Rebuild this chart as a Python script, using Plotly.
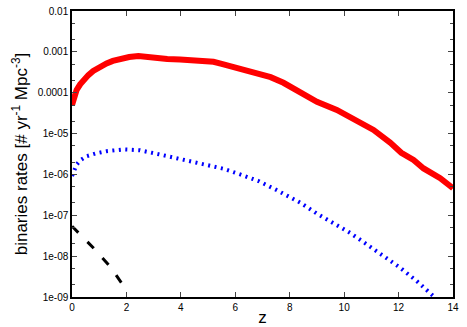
import plotly.graph_objects as go

# red solid curve
z_red = [0, 0.08, 0.17, 0.3, 0.42, 0.6, 0.78, 1.0, 1.27, 1.5, 1.76, 2.1, 2.44, 2.7,
         2.99, 3.5, 3.97, 4.6, 5.2, 5.5, 5.8, 6.1, 6.42, 6.85, 7.3, 7.77, 8.38, 9.0,
         9.73, 10.47, 11.08, 11.69, 12.1, 12.55, 12.92, 13.53, 14.0]
rate_red = [5.0e-5, 8.0e-5, 1.17e-4, 1.6e-4, 2.0e-4, 2.7e-4, 3.4e-4, 4.2e-4, 5.2e-4,
            6.0e-4, 6.8e-4, 7.5e-4, 7.9e-4, 7.6e-4, 6.9e-4, 6.7e-4, 6.5e-4, 6.1e-4,
            5.7e-4, 5.1e-4, 4.5e-4, 4.0e-4, 3.6e-4, 3.1e-4, 2.4e-4, 1.75e-4, 9.8e-5,
            6.0e-5, 3.8e-5, 1.95e-5, 1.23e-5, 6.0e-6, 3.4e-6, 2.25e-6, 1.4e-6,
            8.1e-7, 4.6e-7]

# blue dotted curve
z_blue = [0, 0.08, 0.17, 0.3, 0.54, 0.9, 1.27, 1.89, 2.5, 3.11, 3.73, 4.34, 4.95,
          5.56, 6.18, 6.85, 7.5, 8.38, 9.0, 9.6, 10.22, 10.83, 11.45, 12.06, 12.67,
          13.28]
rate_blue = [9.1e-7, 1.3e-6, 1.74e-6, 2.2e-6, 2.8e-6, 3.3e-6, 3.7e-6, 4.1e-6, 3.9e-6,
             3.2e-6, 2.6e-6, 2.15e-6, 1.7e-6, 1.38e-6, 1.0e-6, 6.9e-7, 4.2e-7,
             2.05e-7, 1.1e-7, 6.6e-8, 3.7e-8, 1.95e-8, 1.0e-8, 5.2e-9, 2.45e-9,
             1.05e-9]

# black dashed curve
z_black = [0, 0.78, 1.4, 1.95]
rate_black = [5.4e-8, 1.6e-8, 5.6e-9, 1.66e-9]

y_tickvals = [1e-9, 1e-8, 1e-7, 1e-6, 1e-5, 1e-4, 1e-3, 1e-2]
y_ticktext = ["1e-09", "1e-08", "1e-07", "1e-06", "1e-05", "0.0001", "0.001", "0.01"]
x_tickvals = [0, 2, 4, 6, 8, 10, 12, 14]

fig = go.Figure()

fig.add_trace(go.Scatter(x=z_red, y=rate_red, mode='lines',
                         line=dict(color='#ff0000', width=6),
                         showlegend=False))
fig.add_trace(go.Scatter(x=z_blue, y=rate_blue, mode='lines',
                         line=dict(color='#0000ff', width=4, dash='2px,4.5px'),
                         showlegend=False))
fig.add_trace(go.Scatter(x=z_black, y=rate_black, mode='lines',
                         line=dict(color='#000000', width=3, dash='9px,13px'),
                         showlegend=False))

fig.update_layout(
    width=467, height=327,
    margin=dict(l=72, r=14, t=11, b=30),
    plot_bgcolor='white', paper_bgcolor='white',
    font=dict(family='Liberation Sans, Arial, sans-serif', color='black'),
)

fig.update_xaxes(
    range=[0, 14], tickvals=x_tickvals, ticks='inside', ticklen=5,
    showline=True, linecolor='black', linewidth=1.5, mirror='ticks',
    showgrid=False, zeroline=False, tickfont=dict(size=10), automargin=False,
    title=dict(text='z', font=dict(size=17), standoff=2),
)

fig.update_yaxes(
    type='log', range=[-9, -2], tickvals=y_tickvals, ticktext=y_ticktext,
    ticks='inside', ticklen=5,
    minor=dict(ticks='inside', ticklen=3, showgrid=False),
    showline=True, linecolor='black', linewidth=1.5, mirror='ticks',
    showgrid=False, zeroline=False, tickfont=dict(size=10), automargin=False,
    title=dict(text='binaries rates [# yr<sup>-1</sup> Mpc<sup>-3</sup>]',
               font=dict(size=17), standoff=6),
)

# drop the page's default body margin so the figure sits at the window corner
fig.write_html("out.html", config={'displayModeBar': False},
               post_script="document.body.style.margin='0px';")
